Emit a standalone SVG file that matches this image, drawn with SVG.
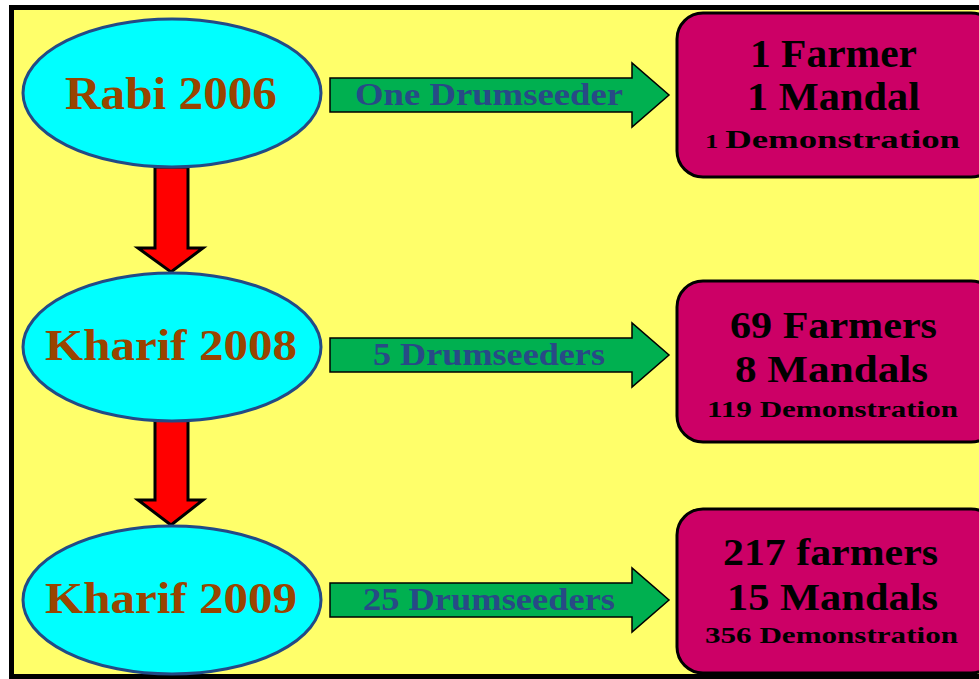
<svg xmlns="http://www.w3.org/2000/svg" width="979" height="679" viewBox="0 0 979 679">
<style>
.ell{fill:#00ffff;stroke:#234a86;stroke-width:3}
.lbl{font-family:"Liberation Serif","Times New Roman",serif;font-weight:bold;fill:#994400}
.down{fill:#ff0000;stroke:#000;stroke-width:3;stroke-linejoin:miter}
.right{fill:#00b050;stroke:#000;stroke-width:1.5}
.atxt{font-family:"Liberation Serif","Times New Roman",serif;font-weight:bold;fill:#284a86}
.box{fill:#cc0066;stroke:#000;stroke-width:3}
.btxt{font-family:"Liberation Serif","Times New Roman",serif;font-weight:bold;fill:#000}
</style>
<rect x="0" y="0" width="979" height="679" fill="#ffffff"/>
<rect x="11.5" y="7.5" width="990" height="669" fill="#ffff6a" stroke="#000" stroke-width="5"/>

<g id="connectors">
  <polygon class="down" points="155,167 188,167 188,248 203,248 171,272 138,248 155,248"/>
  <polygon class="down" points="155,420 188,420 188,500 203,500 171,525 138,500 155,500"/>
  <g id="c1">
    <polygon class="right" points="330,78 632,78 632,63 669,95 632,127 632,112 330,112"/>
    <text class="atxt" x="355" y="105" font-size="31" textLength="268" lengthAdjust="spacingAndGlyphs">One Drumseeder</text>
  </g>
  <g id="c2">
    <polygon class="right" points="330,338 632,338 632,323 669,355 632,387 632,372 330,372"/>
    <text class="atxt" x="373" y="365" font-size="31" textLength="232" lengthAdjust="spacingAndGlyphs">5 Drumseeders</text>
  </g>
  <g id="c3">
    <polygon class="right" points="330,583 632,583 632,568 669,600 632,632 632,617 330,617"/>
    <text class="atxt" x="363" y="610" font-size="31" textLength="252" lengthAdjust="spacingAndGlyphs">25 Drumseeders</text>
  </g>
</g>

<g id="rabi2006">
  <ellipse class="ell" cx="172" cy="93" rx="149" ry="74"/>
  <text class="lbl" x="65" y="109" font-size="46" textLength="212" lengthAdjust="spacingAndGlyphs">Rabi 2006</text>
</g>
<g id="kharif2008">
  <ellipse class="ell" cx="172" cy="347" rx="149" ry="74"/>
  <text class="lbl" x="45" y="360" font-size="45" textLength="252" lengthAdjust="spacingAndGlyphs">Kharif 2008</text>
</g>
<g id="kharif2009">
  <ellipse class="ell" cx="172" cy="600" rx="149" ry="74"/>
  <text class="lbl" x="45" y="613" font-size="45" textLength="252" lengthAdjust="spacingAndGlyphs">Kharif 2009</text>
</g>

<g id="result1">
  <rect class="box" x="677" y="13" width="320" height="164" rx="26"/>
  <text class="btxt" x="750" y="67" font-size="39" textLength="167" lengthAdjust="spacingAndGlyphs">1 Farmer</text>
  <text class="btxt" x="747" y="110" font-size="39" textLength="173" lengthAdjust="spacingAndGlyphs">1 Mandal</text>
  <text class="btxt" x="705" y="148" font-size="26" textLength="255" lengthAdjust="spacingAndGlyphs"><tspan font-size="19">1 </tspan>Demonstration</text>
</g>
<g id="result2">
  <rect class="box" x="677" y="281" width="320" height="161" rx="26"/>
  <text class="btxt" x="730" y="338" font-size="38" textLength="207" lengthAdjust="spacingAndGlyphs">69 Farmers</text>
  <text class="btxt" x="735" y="382" font-size="38" textLength="193" lengthAdjust="spacingAndGlyphs">8 Mandals</text>
  <text class="btxt" x="707" y="417" font-size="24" textLength="251" lengthAdjust="spacingAndGlyphs">119 Demonstration</text>
</g>
<g id="result3">
  <rect class="box" x="677" y="509" width="320" height="164" rx="26"/>
  <text class="btxt" x="723" y="565" font-size="38" textLength="215" lengthAdjust="spacingAndGlyphs">217 farmers</text>
  <text class="btxt" x="727" y="610" font-size="38" textLength="211" lengthAdjust="spacingAndGlyphs">15 Mandals</text>
  <text class="btxt" x="705" y="643" font-size="24" textLength="253" lengthAdjust="spacingAndGlyphs">356 Demonstration</text>
</g>
</svg>
